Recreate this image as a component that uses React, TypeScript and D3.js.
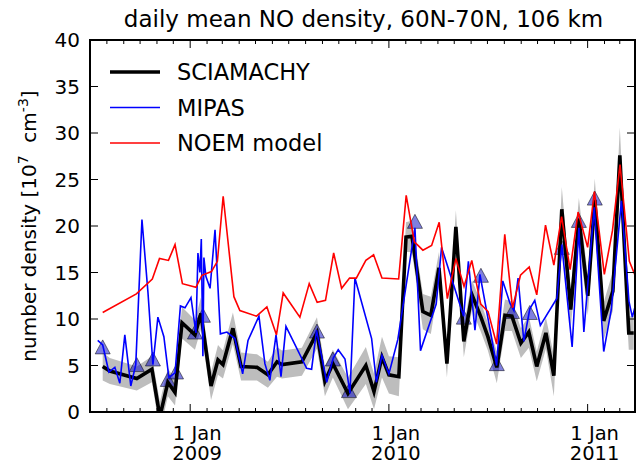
import * as d3 from 'd3';
import React from 'react';

// SCIAMACHY daily means (decimal year) with uncertainty
const sciaYears = [
  2008.561, 2008.597, 2008.732, 2008.808, 2008.848, 2008.888, 2008.924, 2008.959,
  2009.024, 2009.054, 2009.105, 2009.140, 2009.165, 2009.215, 2009.256, 2009.336,
  2009.391, 2009.437, 2009.462, 2009.562, 2009.638, 2009.678, 2009.718, 2009.794,
  2009.884, 2009.925, 2009.965, 2010.000, 2010.050, 2010.086, 2010.116, 2010.171,
  2010.211, 2010.252, 2010.292, 2010.337, 2010.377, 2010.418, 2010.463, 2010.498,
  2010.543, 2010.584, 2010.619, 2010.664, 2010.704, 2010.744, 2010.790, 2010.830,
  2010.870, 2010.915, 2010.956, 2011.001, 2011.036, 2011.081, 2011.127, 2011.162,
  2011.207, 2011.232,
];
const sciaValues = [
  4.9, 4.4, 3.6, 4.6, -0.5, 3.2, 2.1, 9.6,
  8.3, 10.6, 2.8, 5.6, 5.1, 9.0, 4.9, 4.8,
  4.0, 5.4, 5.1, 5.4, 8.5, 3.3, 5.2, 2.0,
  5.0, 2.2, 5.9, 4.0, 3.8, 18.8, 18.9, 10.8,
  10.4, 15.5, 5.2, 19.9, 7.6, 12.6, 10.2, 8.1,
  4.8, 10.4, 10.3, 7.4, 8.6, 4.9, 8.5, 3.9,
  21.8, 11.0, 20.8, 12.5, 22.8, 9.8, 13.0, 27.6,
  8.5, 8.5,
];
const sciaErrors = [
  1.5, 1.4, 1.3, 1.4, 1.6, 1.5, 1.4, 1.7,
  1.6, 1.7, 1.5, 1.6, 1.5, 1.7, 1.5, 1.4,
  1.4, 1.6, 1.5, 1.5, 1.7, 1.6, 1.5, 1.7,
  2.0, 1.9, 2.2, 2.0, 2.1, 1.6, 1.7, 1.9,
  2.0, 1.7, 1.5, 1.8, 1.7, 1.6, 1.6, 1.5,
  1.7, 1.7, 1.6, 1.6, 1.7, 1.6, 1.7, 2.2,
  2.4, 2.0, 2.2, 2.1, 2.3, 2.0, 2.1, 3.0,
  1.8, 1.8,
];

// MIPAS daily means
const mipasYears = [
  2008.536, 2008.561, 2008.592, 2008.622, 2008.647, 2008.672, 2008.702, 2008.727,
  2008.758, 2008.788, 2008.813, 2008.838, 2008.868, 2008.893, 2008.924, 2008.951,
  2008.974, 2009.004, 2009.029, 2009.039, 2009.049, 2009.056, 2009.064, 2009.069,
  2009.079, 2009.100, 2009.125, 2009.152, 2009.185, 2009.225, 2009.264, 2009.291,
  2009.346, 2009.376, 2009.401, 2009.432, 2009.457, 2009.482, 2009.586, 2009.611,
  2009.636, 2009.687, 2009.720, 2009.745, 2009.779, 2009.804, 2009.829, 2009.913,
  2009.937, 2009.965, 2010.000, 2010.045, 2010.131, 2010.159, 2010.238, 2010.265,
  2010.376, 2010.400, 2010.433, 2010.458, 2010.542, 2010.573, 2010.609, 2010.629,
  2010.650, 2010.679, 2010.709, 2010.734, 2010.762, 2010.845, 2010.870, 2010.922,
  2010.956, 2010.981, 2011.033, 2011.081, 2011.119, 2011.170, 2011.208, 2011.225,
  2011.237,
];
const mipasValues = [
  7.7, 7.2, 4.3, 4.8, 3.1, 8.3, 2.8, 5.1,
  20.7, 12.9, 5.1, 10.2, 8.1, 3.7, 4.2, 11.4,
  11.2, 12.3, 8.5, 17.1, 15.0, 18.6, 6.0, 16.6,
  14.6, 13.3, 19.6, 8.4, 8.6, 7.9, 4.1, 7.7,
  10.3, 5.2, 3.4, 8.3, 3.8, 9.2, 4.7, 4.6,
  8.8, 3.2, 5.8, 6.7, 5.7, 2.0, 14.4, 7.9,
  3.2, 6.1, 4.1, 7.8, 19.8, 6.6, 11.6, 17.7,
  10.3, 16.2, 8.8, 14.8, 5.0, 14.1, 11.7, 10.9,
  14.4, 7.6, 11.1, 12.0, 9.3, 12.2, 18.0, 7.0,
  19.8, 8.6, 22.0, 6.5, 11.0, 22.7, 11.9, 10.2,
  11.2,
];

// MIPAS markers (triangles)
const mipasMarkYears = [
  2008.561, 2008.732, 2008.813, 2008.888, 2008.929, 2009.024, 2009.064, 2009.638,
  2009.718, 2009.799, 2010.131, 2010.377, 2010.463, 2010.543, 2010.619, 2010.709,
  2010.870, 2010.956, 2011.036,
];
const mipasMarkValues = [
  7.0, 5.1, 5.7, 3.5, 4.3, 8.6, 10.4, 8.7,
  5.7, 2.3, 20.5, 10.2, 14.7, 5.2, 10.8, 10.7,
  17.7, 20.6, 23.0,
];

// NOEM model
const noemYears = [
  2008.561, 2008.730, 2008.810, 2008.846, 2008.891, 2008.924, 2008.961, 2009.029,
  2009.059, 2009.107, 2009.137, 2009.166, 2009.220, 2009.250, 2009.334, 2009.386,
  2009.434, 2009.468, 2009.552, 2009.599, 2009.639, 2009.681, 2009.722, 2009.762,
  2009.802, 2009.836, 2009.884, 2009.923, 2009.965, 2010.049, 2010.087, 2010.128,
  2010.171, 2010.215, 2010.253, 2010.294, 2010.337, 2010.378, 2010.417, 2010.462,
  2010.499, 2010.542, 2010.583, 2010.622, 2010.662, 2010.706, 2010.744, 2010.788,
  2010.830, 2010.869, 2010.912, 2010.952, 2011.000, 2011.034, 2011.084, 2011.125,
  2011.163, 2011.210, 2011.237,
];
const noemValues = [
  10.7, 12.7, 14.3, 16.5, 16.3, 18.0, 13.8, 13.4,
  14.7, 15.1, 16.2, 23.2, 12.4, 10.9, 10.3, 11.3,
  8.3, 12.8, 10.2, 13.8, 11.8, 12.0, 17.1, 13.3,
  14.4, 14.4, 16.3, 16.9, 14.4, 14.3, 23.3, 18.3,
  17.4, 17.9, 20.4, 12.2, 16.5, 13.5, 16.3, 11.6,
  10.8, 7.3, 19.1, 11.2, 14.7, 15.6, 12.6, 20.1,
  15.8, 21.0, 15.3, 21.5, 17.7, 23.7, 14.8, 19.5,
  26.6, 16.2, 14.8,
];

const yTicks = [0, 5, 10, 15, 20, 25, 30, 35, 40];
const yearTicks = [2009, 2010, 2011];
const legendNames = ['SCIAMACHY', 'MIPAS', 'NOEM model'];
const legendColors = ['#000000', '#0000ff', '#ff0000'];

const FONT = 'DejaVu Sans, sans-serif';

function toDate(t: number) {
  const yr = Math.floor(t);
  const a = new Date(yr, 0, 1).getTime();
  const b = new Date(yr + 1, 0, 1).getTime();
  return new Date(a + (t - yr) * (b - a));
}

export default function App() {
  const left = 90, right = 635, top = 40, bottom = 412;
  const x = d3.scaleTime()
    .domain([new Date(2008, 6, 1), new Date(2011, 2, 29)])
    .range([left, right]);
  const y = d3.scaleLinear().domain([0, 40]).range([bottom, top]);

  const scia = sciaYears.map((t, i) => ({ d: toDate(t), v: sciaValues[i], e: sciaErrors[i] }));
  const mipas = mipasYears.map((t, i) => ({ d: toDate(t), v: mipasValues[i] }));
  const marks = mipasMarkYears.map((t, i) => ({ d: toDate(t), v: mipasMarkValues[i] }));
  const noem = noemYears.map((t, i) => ({ d: toDate(t), v: noemValues[i] }));

  const line = d3.line<{ d: Date; v: number }>().x(p => x(p.d)).y(p => y(p.v));
  const band = d3.area<{ d: Date; v: number; e: number }>()
    .x(p => x(p.d)).y0(p => y(p.v - p.e)).y1(p => y(p.v + p.e));

  const months = d3.timeMonth.range(new Date(2008, 6, 1), new Date(2011, 3, 1))
    .filter(m => x(m) <= right + 0.5);

  const tri = 'M0,-7L-7.5,7L7.5,7Z';

  return (
    <div style={{ position: 'absolute', left: 0, top: 0 }}>
      <svg width={639} height={464} style={{ display: 'block', background: '#fff' }}>
        <defs>
          <clipPath id="plot">
            <rect x={left} y={top} width={right - left} height={bottom - top} />
          </clipPath>
        </defs>

        <text x={(left + right) / 2 + 1} y={27} fontFamily={FONT} fontSize={23} textAnchor="middle">
          daily mean NO density, 60N-70N, 106 km
        </text>

        <g clipPath="url(#plot)">
          <path d={band(scia) || ''} fill="#bdbdbd" stroke="none" />
          {marks.map((p, i) => (
            <path key={i} d={tri} transform={`translate(${x(p.d)},${y(p.v)})`}
              fill="#0000bf" fillOpacity={0.5} stroke="#000" strokeOpacity={0.5} strokeWidth={1} />
          ))}
          <path d={line(scia) || ''} fill="none" stroke="#000" strokeWidth={3.6} strokeLinejoin="miter" />
          <path d={line(mipas) || ''} fill="none" stroke="#0000ff" strokeWidth={1.6} />
          <path d={line(noem) || ''} fill="none" stroke="#ff0000" strokeWidth={1.6} />
        </g>

        {/* ticks */}
        {yTicks.map(t => (
          <g key={t}>
            <line x1={left} x2={left + 8} y1={y(t)} y2={y(t)} stroke="#000" strokeWidth={1} />
            <line x1={right} x2={right - 8} y1={y(t)} y2={y(t)} stroke="#000" strokeWidth={1} />
            <text x={left - 10} y={y(t)} dy="0.35em" textAnchor="end" fontFamily={FONT} fontSize={20}>{t}</text>
          </g>
        ))}
        {months.map((m, i) => {
          const major = m.getMonth() === 0;
          const len = major ? 8 : 4;
          return (
            <g key={i}>
              <line x1={x(m)} x2={x(m)} y1={bottom} y2={bottom - len} stroke="#000" strokeWidth={1} />
              <line x1={x(m)} x2={x(m)} y1={top} y2={top + len} stroke="#000" strokeWidth={1} />
            </g>
          );
        })}
        {yearTicks.map(yr => {
          const px = x(new Date(yr, 0, 1)) + 7;
          return (
            <text key={yr} fontFamily={FONT} fontSize={19.5} textAnchor="middle">
              <tspan x={px} y={440}>1 Jan</tspan>
              <tspan x={px} y={459.5}>{yr}</tspan>
            </text>
          );
        })}

        <rect x={left} y={top} width={right - left} height={bottom - top} fill="none" stroke="#000" strokeWidth={2} />

        <text transform={`translate(36,${(top + bottom) / 2}) rotate(-90)`} textAnchor="middle"
          fontFamily={FONT} fontSize={20}>
          number density [10<tspan dy={-8} fontSize={14}>7</tspan>
          <tspan dy={8}>{'\u00a0\u00a0cm'}</tspan>
          <tspan dy={-8} fontSize={14}>-3</tspan>
          <tspan dy={8}>]</tspan>
        </text>

        {/* legend */}
        {legendNames.map((n, i) => {
          const ly = 72 + i * 35.5;
          return (
            <g key={n}>
              <line x1={110} x2={160} y1={ly} y2={ly} stroke={legendColors[i]} strokeWidth={i === 0 ? 3.6 : 1.6} />
              <text x={177} y={ly} dy="0.36em" fontFamily={FONT} fontSize={22.5}>{n}</text>
            </g>
          );
        })}
      </svg>
    </div>
  );
}
